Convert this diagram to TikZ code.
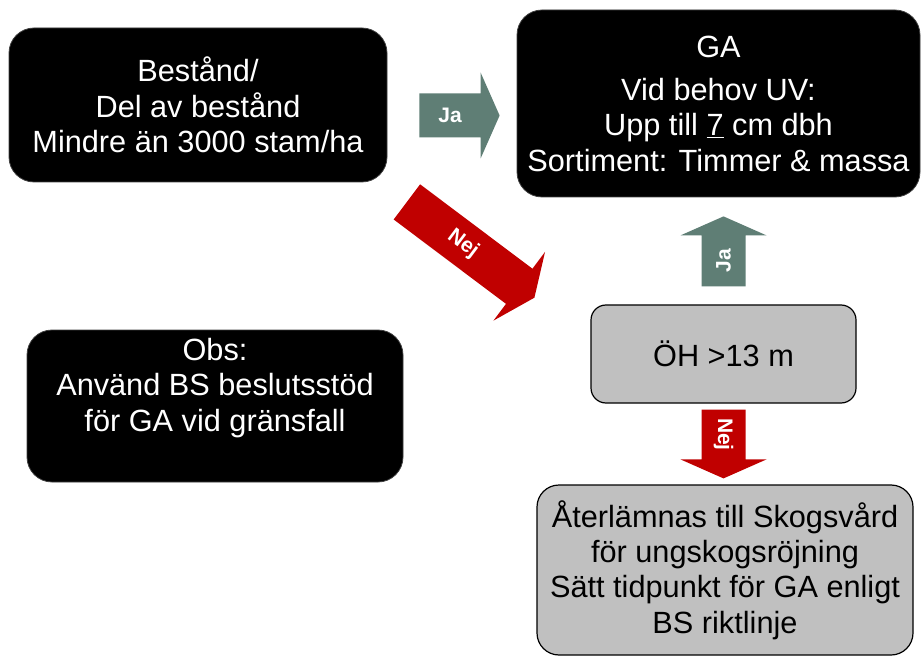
\documentclass[tikz,border=0pt]{standalone}
\usepackage{fontspec}
\setmainfont{Liberation Sans}
\usetikzlibrary{calc}
\definecolor{jagreen}{RGB}{95,126,117}
\definecolor{nejred}{RGB}{192,0,0}
\definecolor{boxgray}{RGB}{192,192,192}
\newcommand{\mainfnt}{\fontsize{30.7}{35.3}\selectfont}
\tikzset{
  darkbox/.style={draw=black!75, line width=0.8pt, fill=black, text=white, rounded corners=25pt, align=center, font=\mainfnt, inner sep=0pt},
  graybox/.style={draw=black, line width=1.2pt, fill=boxgray, text=black, align=center, font=\mainfnt, inner sep=0pt},
  boxtext/.style={text=white, align=center, font=\mainfnt, inner sep=0pt},
  arrowlabel/.style={text=white, font=\bfseries\fontsize{21}{23}\selectfont, transform shape, inner sep=0pt}
}
% block arrow from #1 (tail centre) to #2 (tip), colour #3, label #4
\newcommand{\blockarrow}[4]{%
  \path (#1); \pgfgetlastxy{\BAax}{\BAay}%
  \path (#2); \pgfgetlastxy{\BAbx}{\BAby}%
  \pgfmathsetmacro\BAang{atan2(\BAby-\BAay,\BAbx-\BAax)}%
  \pgfmathsetmacro\BAlen{veclen(\BAbx-\BAax,\BAby-\BAay)}%
  \pgfmathsetmacro\BAbase{\BAlen-19}%
  \pgfmathsetmacro\BAmid{\BAbase/2}%
  \begin{scope}[shift={(\BAax,\BAay)},rotate=\BAang]
    \fill[#3] (0,-22) -- (\BAbase,-22) -- (\BAbase,-43) -- (\BAlen,0) -- (\BAbase,43) -- (\BAbase,22) -- (0,22) -- cycle;
    \node[arrowlabel] at (\BAmid,0) {#4};
  \end{scope}%
}
\begin{document}
\begin{tikzpicture}[x=1pt,y=1pt]
\useasboundingbox (0,0) rectangle (921,657);
\fill[white] (0,0) rectangle (921,657);

\node[darkbox, minimum width=378pt, minimum height=154pt] (stand) at (198,552)
  {Bestånd/\\Del av bestånd\\Mindre än 3000 stam/ha};
\node[darkbox, minimum width=403pt, minimum height=187pt] (ga) at (718.5,553.5)
  {GA\\[8pt]Vid behov UV:\\Upp till \underline{7} cm dbh\\Sortiment: Timmer \& massa};
\node[darkbox, minimum width=376pt, minimum height=152pt] (obs) at (215,251) {};
\node[boxtext] (obstext) at ($(obs.center)+(0,18)$)
  {Obs:\\Använd BS beslutsstöd\\för GA vid gränsfall};
\node[graybox, rounded corners=15pt, minimum width=265pt, minimum height=98pt] (oh) at (723.5,303)
  {ÖH >13 m};
\node[graybox, rounded corners=22pt, minimum width=376pt, minimum height=170pt] (ret) at (725,87)
  {Återlämnas till Skogsvård\\för ungskogsröjning\\Sätt tidpunkt för GA enligt\\BS riktlinje};

\coordinate (jaS) at ($(stand.east)+(32,-10.5)$);
\coordinate (jaE) at ($(ga.west)+(-17,-12)$);
\coordinate (ja2S) at ($(oh.north)+(0,18)$);
\coordinate (ja2E) at ($(oh.north |- ga.south)+(0,-19)$);
\coordinate (nej2S) at ($(oh.south)+(0,-6)$);
\coordinate (nej2E) at ($(oh.south |- ret.north)+(0,6)$);
\coordinate (nejS) at ($(stand.south east)+(19.5,-19.5)$);
\coordinate (nejE) at ($(oh.north west)+(-56,6.7)$);

\blockarrow{jaS}{jaE}{jagreen}{Ja}
\blockarrow{ja2S}{ja2E}{jagreen}{Ja}
\blockarrow{nejS}{nejE}{nejred}{Nej}
\blockarrow{nej2S}{nej2E}{nejred}{Nej}
\end{tikzpicture}
\end{document}
